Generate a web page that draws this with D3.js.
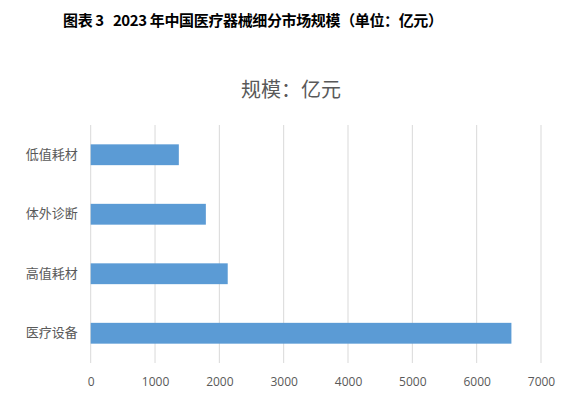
<!DOCTYPE html>
<html>
<head>
<meta charset="utf-8">
<script src="https://cdn.jsdelivr.net/npm/d3@7"></script>
<style>
  body { margin: 0; background: #fff; }
  svg { display: block; }
</style>
</head>
<body>
<div id="chart"></div>
<script>
const categories = ['低值耗材', '体外诊断', '高值耗材', '医疗设备'];
const values = [1370, 1790, 2130, 6540];
const xTicks = [0, 1000, 2000, 3000, 4000, 5000, 6000, 7000];

const W = 567, H = 398;
const margin = { top: 125, right: 26, bottom: 35, left: 90.7 };
const width = W - margin.left - margin.right;
const height = H - margin.top - margin.bottom;

const svg = d3.select('#chart').append('svg')
  .attr('width', W)
  .attr('height', H);

// figure caption
svg.append('text')
  .attr('x', 63)
  .attr('y', 26)
  .attr('font-family', '"Noto Sans CJK SC", sans-serif')
  .attr('font-weight', 'bold')
  .attr('font-size', 15)
  .attr('fill', '#000')
  .style('white-space', 'pre')
  .attr('textLength', 380)
  .attr('lengthAdjust', 'spacing')
  .text('图表 3   2023 年中国医疗器械细分市场规模（单位：亿元）');

// chart title
svg.append('text')
  .attr('x', 291)
  .attr('y', 97)
  .attr('text-anchor', 'middle')
  .attr('font-family', '"Noto Sans CJK SC", sans-serif')
  .attr('font-size', 20)
  .attr('fill', '#595959')
  .text('规模：亿元');

const g = svg.append('g')
  .attr('transform', `translate(${margin.left},${margin.top})`);

const x = d3.scaleLinear()
  .domain([0, 7000])
  .range([0, width]);

const y = d3.scaleBand()
  .domain(categories)
  .range([0, height])
  .paddingInner(0.65)
  .paddingOuter(0.325);

// vertical gridlines
g.selectAll('.grid')
  .data(xTicks)
  .enter().append('line')
  .attr('x1', d => x(d))
  .attr('x2', d => x(d))
  .attr('y1', 0)
  .attr('y2', height)
  .attr('stroke', '#d9d9d9')
  .attr('stroke-width', 1);

// bars
g.selectAll('.bar')
  .data(categories)
  .enter().append('rect')
  .attr('x', x(0))
  .attr('y', d => y(d))
  .attr('width', (d, i) => x(values[i]) - x(0))
  .attr('height', y.bandwidth())
  .attr('fill', '#5b9bd5');

// x axis
const xAxis = g.append('g')
  .attr('transform', `translate(0,${height})`)
  .call(d3.axisBottom(x).tickValues(xTicks).tickFormat(d3.format('d')).tickSize(0).tickPadding(14));
xAxis.select('.domain').remove();
xAxis.selectAll('text')
  .attr('font-family', '"Open Sans", sans-serif')
  .attr('font-size', 12)
  .attr('fill', '#595959');

// y axis
const yAxis = g.append('g')
  .call(d3.axisLeft(y).tickSize(0).tickPadding(13));
yAxis.select('.domain').remove();
yAxis.selectAll('text')
  .attr('font-family', '"Noto Sans CJK SC", sans-serif')
  .attr('font-size', 13)
  .attr('fill', '#595959');
</script>
</body>
</html>
